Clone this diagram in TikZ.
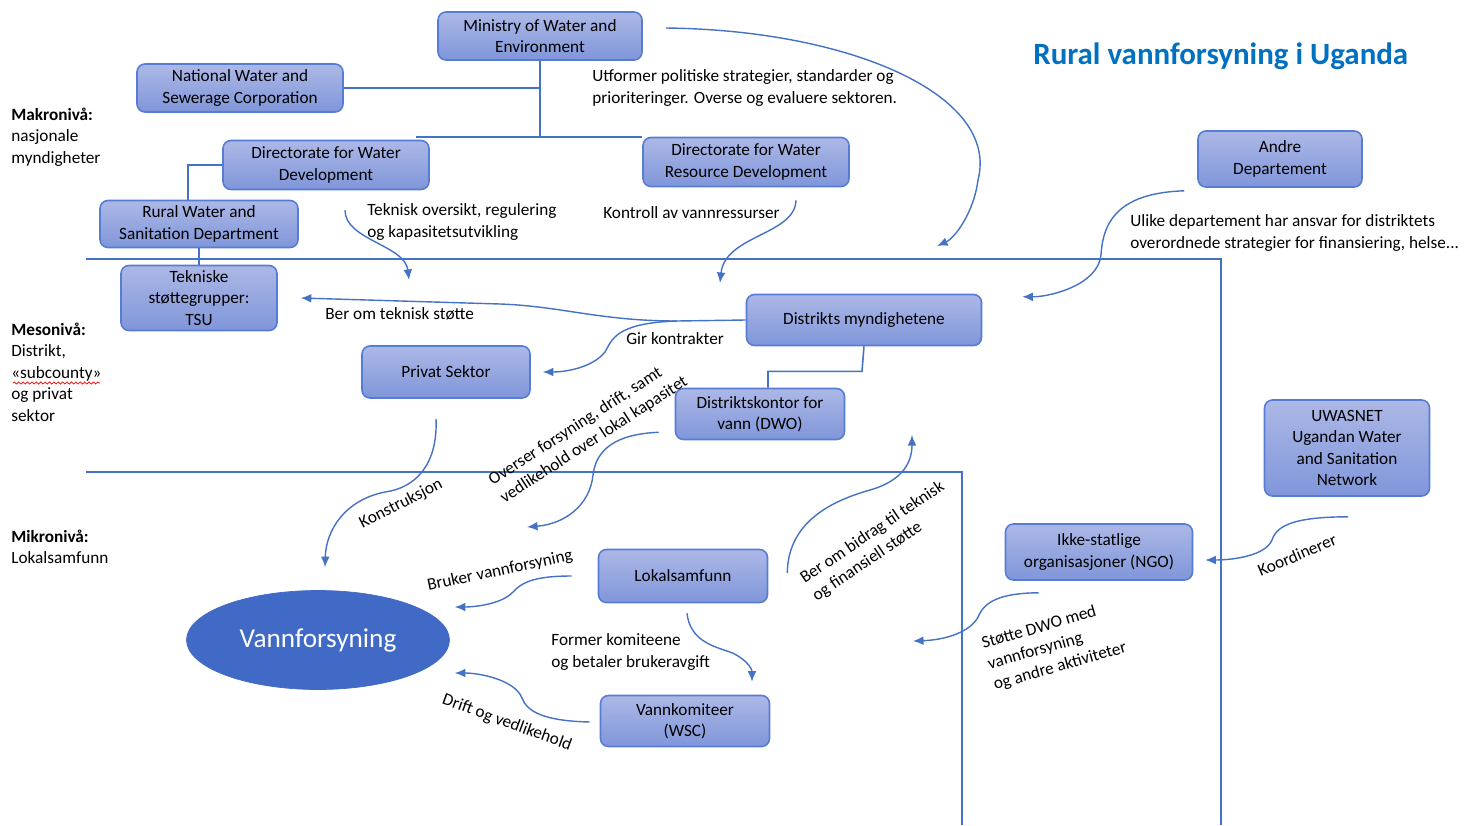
\documentclass[tikz,border=0pt]{standalone}
\usepackage{fontspec}
\setmainfont{Carlito}
\usetikzlibrary{arrows.meta,calc,shapes.geometric,decorations.pathmorphing}

\definecolor{linje}{RGB}{68,114,196}
\definecolor{kant}{RGB}{86,124,212}
\definecolor{lys}{RGB}{172,184,230}
\definecolor{mork}{RGB}{128,150,218}
\definecolor{vann}{RGB}{65,105,198}
\definecolor{tittel}{RGB}{0,112,192}

\begin{document}
\begin{tikzpicture}[x=0.02cm, y=-0.02cm,
  font=\fontsize{9.8}{12.2}\selectfont,
  boks/.style={draw=kant, line width=0.9pt, rounded corners=4.5pt,
    top color=lys, bottom color=mork, align=center, inner sep=1pt},
  tre/.style={draw=linje, line width=0.9pt},
  niva/.style={draw=linje, line width=0.8pt},
  pil/.style={draw=linje, line width=0.8pt, -{Latex[length=6pt,width=5pt]}},
  tekst/.style={inner sep=0pt, align=left}]

  \path[fill=white] (0,0) rectangle (1472,825);

  \draw[niva] (86,259) -| (1221,825);
  \draw[niva] (86,472) -| (962,825);

  \node[font=\bfseries\fontsize{17.6}{20}\selectfont, text=tittel, inner sep=0pt, anchor=base west]
    (tittel) at (1033,64) {Rural vannforsyning i Uganda};

  \node[tekst, anchor=west] (makro) at (11,137) {\textbf{Makronivå:}\\nasjonale\\myndigheter};
  \node[tekst, anchor=west] (meso) at (11,372) {\textbf{Mesonivå:}\\Distrikt,\\«subcounty»\\og privat\\sektor};
  \node[tekst, anchor=west] (mikro) at (11,547) {\textbf{Mikronivå:}\\Lokalsamfunn};
  \draw[red, line width=0.4pt, decorate, decoration={snake, amplitude=0.6pt, segment length=2.5pt}]
    (13,383) -- (100,383);

  \node[boks, minimum width=4.08cm, minimum height=0.96cm] (min) at (540,36) {Ministry of Water and\\Environment};
  \node[boks, minimum width=4.12cm, minimum height=0.96cm] (nwsc) at (240,88) {National Water and\\Sewerage Corporation};
  \node[boks, minimum width=4.12cm, minimum height=0.98cm] (dwd) at (326,165) {Directorate for Water\\Development};
  \node[boks, minimum width=4.12cm, minimum height=0.98cm] (dwrd) at (746,162) {Directorate for Water\\Resource Development};
  \node[boks, minimum width=3.96cm, minimum height=0.94cm] (rwsd) at (199,224) {Rural Water and\\Sanitation Department};
  \node[boks, minimum width=3.12cm, minimum height=1.30cm] (tsu) at (199,298) {Tekniske\\støttegrupper:\\TSU};
  \node[boks, minimum width=3.28cm, minimum height=1.12cm] (andre) at (1280,159) {Andre\\Departement};
  \node[boks, minimum width=4.70cm, minimum height=1.02cm] (dm) at (864,320) {Distrikts myndighetene};
  \node[boks, minimum width=3.36cm, minimum height=1.04cm] (ps) at (446,372) {Privat Sektor};
  \node[boks, minimum width=3.38cm, minimum height=1.02cm] (dwo) at (760,414) {Distriktskontor for\\vann (DWO)};
  \node[boks, minimum width=3.30cm, minimum height=1.92cm] (uwas) at (1347,448) {UWASNET\\Ugandan Water\\and Sanitation\\Network};
  \node[boks, minimum width=3.74cm, minimum height=1.12cm] (ngo) at (1099,552) {Ikke-statlige\\organisasjoner (NGO)};
  \node[boks, minimum width=3.38cm, minimum height=1.06cm] (lok) at (683,576) {Lokalsamfunn};
  \node[boks, minimum width=3.38cm, minimum height=1.02cm] (wsc) at (685,721) {Vannkomiteer\\(WSC)};
  \node[ellipse, draw=vann, fill=vann, text=white, inner sep=0pt, minimum width=5.26cm, minimum height=1.98cm,
    font=\fontsize{15.5}{18}\selectfont] (vf) at (318,640) {Vannforsyning};

  \draw[tre] (min.south) |- (dwrd.north west);
  \draw[tre] (min.south |- nwsc.east) -- (nwsc.east);
  \draw[tre] (min.south) |- ($(dwd.north east)+(-14,-3)$);
  \draw[tre] (dwd.west) -| ($(rwsd.north)+(-11,0)$);
  \draw[tre] (rwsd.south) -- (tsu.north);
  \draw[tre] (dm.south) -- ++(-2,25) -| ($(dwo.north)+(8,0)$);

  \coordinate (politikk) at (937,246);
  \coordinate (teknisk) at (409,280);
  \coordinate (kontroll) at (720,283);
  \coordinate (overser) at (527,527);
  \coordinate (bidrag) at (912,435);
  \coordinate (stotte) at (913,641);

  \draw[pil] ($(min.east)+(23,-8)$) .. controls (850,30) and (1000,95) .. (978,180)
    .. controls (974,212) and (955,238) .. (politikk);
  \draw[pil] ($(dwd.south)+(19,20)$) .. controls (345,240) and (405,245) .. (teknisk);
  \draw[pil] ($(dwrd.south)+(50,13)$) .. controls (795,235) and (725,235) .. (kontroll);
  \draw[pil] ($(andre.south west)+(-13,3)$) .. controls (1120,193) and (1103,220) .. (1101,255)
    .. controls (1098,285) and (1050,297) .. ($(dm.north east)+(40,3)$);
  \draw[pil] (dm.west) -- (677,321) coordinate (gren) .. controls (600,321) and (560,306) .. (500,304)
    -- ($(tsu.east)+(23,0)$);
  \draw[pil] (gren) .. controls (615,323) and (612,340) .. (605,352)
    .. controls (592,368) and (565,372) .. ($(ps.east)+(12,0)$);
  \draw[pil] ($(ps.south)+(-10,20)$) .. controls (438,465) and (415,488) .. (385,492)
    .. controls (345,500) and (326,530) .. ($(vf.north)+(7,-23)$);
  \draw[pil] ($(dwo.south west)+(-16,-8)$) .. controls (615,434) and (596,450) .. (593,475)
    .. controls (590,505) and (565,524) .. (overser);
  \draw[pil] ($(lok.west)+(-26,0)$) .. controls (535,576) and (522,582) .. (513,592)
    .. controls (502,604) and (475,607) .. ($(vf.east)+(5,-33)$);
  \draw[pil] ($(wsc.west)+(-10,1)$) .. controls (545,721) and (527,712) .. (522,698)
    .. controls (515,680) and (480,673) .. ($(vf.east)+(5,33)$);
  \draw[pil] ($(lok.south)+(4,10)$) .. controls (690,640) and (712,646) .. (730,652)
    .. controls (745,658) and (752,668) .. ($(wsc.north)+(67,-13)$);
  \draw[pil] ($(lok.east)+(19,-3)$) .. controls (788,520) and (835,500) .. (870,490)
    .. controls (905,480) and (912,460) .. (bidrag);
  \draw[pil] ($(ngo.south west)+(34,12)$) .. controls (1000,593) and (985,602) .. (979,615)
    .. controls (972,632) and (945,640) .. (stotte);
  \draw[pil] ($(uwas.south)+(1,20)$) .. controls (1295,517) and (1277,525) .. (1272,540)
    .. controls (1266,555) and (1235,560) .. ($(ngo.east)+(12,8)$);

  \node[tekst, anchor=west] (t1) at (592,88) {Utformer politiske strategier, standarder og\\prioriteringer. Overse og evaluere sektoren.};
  \node[tekst, anchor=west] (t2) at (367,222) {Teknisk oversikt, regulering\\og kapasitetsutvikling};
  \node[tekst, anchor=west] (t3) at (603,213) {Kontroll av vannressurser};
  \node[tekst, anchor=west] (t4) at (1130,233) {Ulike departement har ansvar for distriktets\\overordnede strategier for finansiering, helse...};
  \node[tekst, anchor=west] (t5) at (325,314) {Ber om teknisk støtte};
  \node[tekst, anchor=west] (t6) at (626,339) {Gir kontrakter};
  \node[tekst, anchor=west, rotate=33] (t7) at (496,491) {Overser forsyning, drift, samt\\vedlikehold over lokal kapasitet};
  \node[tekst, rotate=27] (t8) at (401,504) {Konstruksjon};
  \node[tekst, rotate=12] (t9) at (500,571) {Bruker vannforsyning};
  \node[tekst, anchor=west] (t10) at (551,652) {Former komiteene\\og betaler brukeravgift};
  \node[tekst, rotate=-20] (t11) at (507,723) {Drift og vedlikehold};
  \node[tekst, anchor=west, rotate=34] (t12) at (808,589) {Ber om bidrag til teknisk\\og finansiell støtte};
  \node[tekst, rotate=23] (t13) at (1297,555) {Koordinerer};
  \node[tekst, anchor=west, rotate=16] (t14) at (988,665) {Støtte DWO med\\vannforsyning\\og andre aktiviteter};
\end{tikzpicture}
\end{document}
